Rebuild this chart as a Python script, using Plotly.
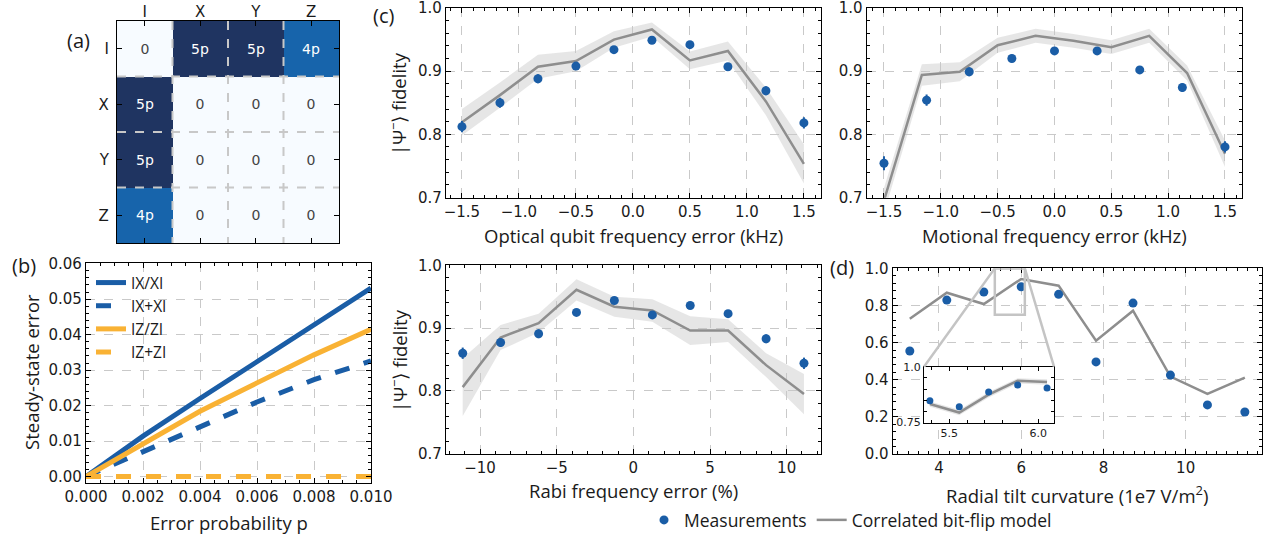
import plotly.graph_objects as go

# ---------------- data ----------------
# (a) correlated error coefficient matrix
paulis = ["I", "X", "Y", "Z"]
coeff = [[0, 5, 5, 4],
         [5, 0, 0, 0],
         [5, 0, 0, 0],
         [4, 0, 0, 0]]

# (b) steady-state error vs error probability
p_vals = [0.0, 0.002, 0.004, 0.006, 0.008, 0.010]
err_IX_XI = [0.0, 0.0114, 0.0220, 0.0323, 0.0428, 0.0531]
err_IXpXI = [0.0, 0.0071, 0.0140, 0.0210, 0.0273, 0.0326]
err_IZ_ZI = [0.0, 0.0093, 0.0184, 0.0264, 0.0343, 0.0415]
err_IZpZI = [0.0, 0.0, 0.0, 0.0, 0.0, 0.0]

# (c) optical qubit frequency error
opt_x = [-1.5, -1.1667, -0.8333, -0.5, -0.1667, 0.1667, 0.5, 0.8333, 1.1667, 1.5]
opt_meas = [0.812, 0.850, 0.888, 0.908, 0.934, 0.949, 0.942, 0.907, 0.869, 0.818]
opt_meas_err = [0.009, 0.008, 0.007, 0.006, 0.005, 0.005, 0.005, 0.006, 0.007, 0.009]
opt_model = [0.819, 0.862, 0.907, 0.916, 0.950, 0.966, 0.917, 0.932, 0.852, 0.753]
opt_model_hw = [0.021, 0.020, 0.019, 0.016, 0.013, 0.011, 0.014, 0.015, 0.022, 0.031]

# (c) motional frequency error
mot_meas_x = [-1.5, -1.125, -0.75, -0.375, 0.0, 0.375, 0.75, 1.125, 1.5]
mot_meas = [0.754, 0.854, 0.899, 0.920, 0.932, 0.932, 0.902, 0.874, 0.780]
mot_meas_err = [0.011, 0.009, 0.007, 0.006, 0.005, 0.005, 0.006, 0.007, 0.009]
mot_model_x = [-1.5, -1.1667, -0.8333, -0.5, -0.1667, 0.1667, 0.5, 0.8333, 1.1667, 1.5]
mot_model = [0.695, 0.894, 0.899, 0.941, 0.956, 0.948, 0.938, 0.956, 0.897, 0.769]
mot_model_hw = [0.020, 0.017, 0.015, 0.012, 0.011, 0.011, 0.011, 0.011, 0.012, 0.021]

# (c) Rabi frequency error
rabi_x = [-11.13, -8.66, -6.18, -3.71, -1.24, 1.24, 3.71, 6.18, 8.66, 11.13]
rabi_meas = [0.860, 0.877, 0.891, 0.925, 0.944, 0.921, 0.936, 0.923, 0.883, 0.844]
rabi_meas_err = [0.009, 0.007, 0.007, 0.005, 0.005, 0.005, 0.005, 0.005, 0.007, 0.009]
rabi_model = [0.806, 0.885, 0.908, 0.961, 0.934, 0.928, 0.896, 0.896, 0.841, 0.795]
rabi_model_hw = [0.046, 0.020, 0.015, 0.017, 0.016, 0.018, 0.023, 0.018, 0.019, 0.032]

# (d) radial tilt curvature
tilt_x = [3.29, 4.19, 5.09, 6.00, 6.91, 7.82, 8.72, 9.63, 10.53, 11.44]
tilt_meas = [0.555, 0.829, 0.873, 0.901, 0.860, 0.496, 0.813, 0.425, 0.264, 0.226]
tilt_model = [0.729, 0.869, 0.808, 0.943, 0.907, 0.610, 0.772, 0.417, 0.323, 0.411]

# (d) inset
inset_x = [5.391, 5.556, 5.721, 5.884, 6.049]
inset_meas = [0.848, 0.821, 0.887, 0.918, 0.905]
inset_model = [0.833, 0.795, 0.875, 0.937, 0.932]
inset_model_hw = [0.012, 0.012, 0.012, 0.012, 0.012]

# axis titles
title_b_x = "Error probability p"
title_b_y = "Steady-state error"
title_fid = "|Ψ<sup>−</sup>⟩ fidelity"
title_opt = "Optical qubit frequency error (kHz)"
title_mot = "Motional frequency error (kHz)"
title_rabi = "Rabi frequency error (%)"
title_tilt = "Radial tilt curvature (1e7 V/m<sup>2</sup>)"

# ---------------- style ----------------
BLUE = "#1a5da6"
ORANGE = "#f9b234"
GRAY = "#8e8e8e"
BAND = "rgba(200,200,200,0.45)"
GRID = "#c9c9c9"
TICKFONT = dict(family="DejaVu Sans", size=15, color="#1a1a1a")
TITLEFONT = dict(family="Open Sans", size=18.5, color="#1a1a1a")

W, H = 1271, 537


def dom_x(a, b):
    return [a / W, b / W]


def dom_y(top, bottom):
    return [1 - bottom / H, 1 - top / H]


def axis(domain, rng, dtick, minor_dtick, fmt=None, grid=True, anchor=None, **kw):
    d = dict(domain=domain, range=rng, dtick=dtick, showline=True, linecolor="black",
             linewidth=1.3, mirror="allticks", ticks="inside", ticklen=5, tickwidth=1.2,
             tickcolor="black", showgrid=grid, gridcolor=GRID, griddash="dash", gridwidth=1,
             zeroline=False, tickfont=TICKFONT, anchor=anchor, automargin=False,
             ticklabeloverflow="allow",
             minor=dict(ticks="inside", ticklen=3, tickwidth=1, tickcolor="black",
                        dtick=minor_dtick, showgrid=False))
    if fmt:
        d["tickformat"] = fmt
    d.update(kw)
    return d


fig = go.Figure()

# (a) heatmap
cell_text = [[(f"{c}p" if c else "0") for c in row] for row in coeff]
fig.add_trace(go.Heatmap(
    z=coeff, x=list(range(4)), y=list(range(4)), text=cell_text, texttemplate="%{text}",
    textfont=dict(family="DejaVu Sans", size=14),
    colorscale=[[0, "#f7fbff"], [0.8, "#1764ab"], [1.0, "#1f3461"]], zmin=0, zmax=5,
    showscale=False, xaxis="x", yaxis="y", hoverinfo="skip"))

# (b) lines
fig.add_trace(go.Scatter(x=p_vals, y=err_IX_XI, mode="lines", name="IX/XI",
                         line=dict(color=BLUE, width=5), xaxis="x2", yaxis="y2", legend="legend2"))
fig.add_trace(go.Scatter(x=p_vals, y=err_IXpXI, mode="lines", name="IX+XI",
                         line=dict(color=BLUE, width=5, dash="dash"), xaxis="x2", yaxis="y2", legend="legend2"))
fig.add_trace(go.Scatter(x=p_vals, y=err_IZ_ZI, mode="lines", name="IZ/ZI",
                         line=dict(color=ORANGE, width=5), xaxis="x2", yaxis="y2", legend="legend2"))
fig.add_trace(go.Scatter(x=p_vals, y=err_IZpZI, mode="lines", name="IZ+ZI",
                         line=dict(color=ORANGE, width=5, dash="dash"), xaxis="x2", yaxis="y2", legend="legend2"))


def add_panel(xa, ya, mx, my, merr, lx, ly, lhw, first=False, msize=9, band=True):
    if band and lhw is not None:
        up = [v + h for v, h in zip(ly, lhw)]
        lo = [v - h for v, h in zip(ly, lhw)]
        fig.add_trace(go.Scatter(x=lx, y=up, mode="lines", line=dict(width=0), showlegend=False,
                                 xaxis=xa, yaxis=ya, hoverinfo="skip"))
        fig.add_trace(go.Scatter(x=lx, y=lo, mode="lines", line=dict(width=0), fill="tonexty",
                                 fillcolor=BAND, showlegend=False, xaxis=xa, yaxis=ya, hoverinfo="skip"))
    fig.add_trace(go.Scatter(x=lx, y=ly, mode="lines", line=dict(color=GRAY, width=2.5),
                             name="Correlated bit-flip model", showlegend=first,
                             xaxis=xa, yaxis=ya, legend="legend"))
    ekw = {}
    if merr is not None:
        ekw["error_y"] = dict(type="data", array=merr, color=BLUE, thickness=2, width=0)
    fig.add_trace(go.Scatter(x=mx, y=my, mode="markers", marker=dict(color=BLUE, size=msize),
                             name="Measurements", showlegend=first, xaxis=xa, yaxis=ya,
                             legend="legend", cliponaxis=False, **ekw))


add_panel("x3", "y3", opt_x, opt_meas, opt_meas_err, opt_x, opt_model, opt_model_hw, first=True)
add_panel("x4", "y4", mot_meas_x, mot_meas, mot_meas_err, mot_model_x, mot_model, mot_model_hw)
add_panel("x5", "y5", rabi_x, rabi_meas, rabi_meas_err, rabi_x, rabi_model, rabi_model_hw)
add_panel("x6", "y6", tilt_x, tilt_meas, None, tilt_x, tilt_model, None, band=False)
add_panel("x7", "y7", inset_x, inset_meas, None, inset_x, inset_model, inset_model_hw, msize=7)

# ---------------- layout ----------------
A_X, A_Y = dom_x(117, 339), dom_y(21, 243)
B_X, B_Y = dom_x(86, 371), dom_y(263.3, 483.3)
C1_X, C1_Y = dom_x(446, 821), dom_y(7.7, 197.7)
C2_X, C2_Y = dom_x(866.7, 1241.7), dom_y(7.7, 197.7)
C3_X, C3_Y = dom_x(446, 821), dom_y(265, 454)
D_X, D_Y = dom_x(892.7, 1261.7), dom_y(268.3, 454)
I_X, I_Y = dom_x(924, 1054), dom_y(366.7, 422.7)

D_XR, D_YR = [2.874, 11.85], [0.0, 1.0]
I_XR, I_YR = [5.358, 6.088], [0.75, 1.0]
FID_R = [0.6995, 1.0005]

heat_axis = dict(range=[-0.5, 3.5], tickvals=[0, 1, 2, 3], ticktext=paulis,
                 showline=True, linecolor="black", linewidth=1.3, mirror="allticks", ticks="inside",
                 ticklen=5, tickcolor="black", showgrid=False, zeroline=False, tickfont=TICKFONT,
                 automargin=False, ticklabeloverflow="allow")

fig.update_layout(
    width=W, height=H, margin=dict(l=0, r=0, t=0, b=0, autoexpand=False),
    paper_bgcolor="white", plot_bgcolor="white",
    font=dict(family="Open Sans", color="#1a1a1a"),
    xaxis=dict(heat_axis, domain=A_X, side="top", anchor="y", ticklabelstandoff=-3),
    yaxis=dict(heat_axis, domain=A_Y, range=[3.5, -0.5], anchor="x", ticklabelstandoff=4),
    xaxis2=axis(B_X, [0, 0.010], 0.002, 0.0005, ".3f", anchor="y2"),
    yaxis2=axis(B_Y, [-0.0019, 0.0601], 0.01, 0.002, ".2f", anchor="x2"),
    xaxis3=axis(C1_X, [-1.64, 1.65], 0.5, 0.1, ".1f", anchor="y3"),
    yaxis3=axis(C1_Y, FID_R, 0.1, 0.02, ".1f", anchor="x3"),
    xaxis4=axis(C2_X, [-1.652, 1.647], 0.5, 0.1, ".1f", anchor="y4"),
    yaxis4=axis(C2_Y, FID_R, 0.1, 0.02, ".1f", anchor="x4"),
    xaxis5=axis(C3_X, [-12.22, 12.24], 5, 1, None, anchor="y5"),
    yaxis5=axis(C3_Y, FID_R, 0.1, 0.02, ".1f", anchor="x5"),
    xaxis6=axis(D_X, D_XR, 2, 0.25, None, anchor="y6"),
    yaxis6=axis(D_Y, [-0.0005, 1.0005], 0.2, 0.04, ".1f", anchor="x6"),
    xaxis7=axis(I_X, I_XR, 0.5, 0.1, ".1f", grid=False, anchor="y7",
                tickfont=dict(family="DejaVu Sans", size=11, color="#1a1a1a"), ticklen=4),
    yaxis7=axis(I_Y, [0.7495, 1.0005], 0.25, 0.05, None, grid=False, anchor="x7",
                tickvals=[0.75, 1.0], ticktext=["0.75", "1.0"],
                tickfont=dict(family="DejaVu Sans", size=11, color="#1a1a1a"), ticklen=4),
    legend=dict(orientation="h", x=644 / W, xanchor="left", y=1 - 520 / H, yanchor="middle",
                font=dict(family="Open Sans", size=17.5, color="#1a1a1a"), bgcolor="rgba(0,0,0,0)",
                traceorder="reversed"),
    legend2=dict(x=91 / W, xanchor="left", y=1 - 266 / H, yanchor="top",
                 font=dict(family="Open Sans", size=15.5, color="#1a1a1a"), bgcolor="rgba(0,0,0,0)",
                 tracegroupgap=0),
)

# heatmap dashed cell borders
shapes = []
for b in [0.5, 1.5, 2.5]:
    shapes.append(dict(type="line", xref="x", yref="y", x0=b, x1=b, y0=-0.5, y1=3.5,
                       line=dict(color="#c8c8c8", width=2, dash="dash"), layer="above"))
    shapes.append(dict(type="line", xref="x", yref="y", x0=-0.5, x1=3.5, y0=b, y1=b,
                       line=dict(color="#c8c8c8", width=2, dash="dash"), layer="above"))


def to_data(v, dom, rng):
    return rng[0] + (v - dom[0]) / (dom[1] - dom[0]) * (rng[1] - rng[0])


# inset corners expressed in (d) data coordinates
ix0, ix1 = to_data(I_X[0], D_X, D_XR), to_data(I_X[1], D_X, D_XR)
iy0, iy1 = to_data(I_Y[0], D_Y, D_YR), to_data(I_Y[1], D_Y, D_YR)
# white background behind the inset (hides the grid of d)
shapes.append(dict(type="rect", xref="x6", yref="y6", x0=ix0, x1=ix1, y0=iy0, y1=iy1,
                   fillcolor="white", line=dict(width=0), layer="between"))
# zoom indicator rectangle
shapes.append(dict(type="rect", xref="x6", yref="y6", x0=I_XR[0], x1=I_XR[1], y0=I_YR[0], y1=I_YR[1],
                   line=dict(color="#c4c4c4", width=2.5), layer="above"))
# connectors from rectangle top corners to inset top corners
shapes.append(dict(type="line", xref="x6", yref="y6", x0=I_XR[0], y0=I_YR[1], x1=ix0, y1=iy1,
                   line=dict(color="#c4c4c4", width=2.5), layer="above"))
shapes.append(dict(type="line", xref="x6", yref="y6", x0=I_XR[1], y0=I_YR[1], x1=ix1, y1=iy1,
                   line=dict(color="#c4c4c4", width=2.5), layer="above"))
fig.update_layout(shapes=shapes)

# panel labels and axis titles (placed in pixels of the page)
ann = []
for t, x, y in [("(a)", 78, 40), ("(b)", 24, 265), ("(c)", 383, 15), ("(d)", 842, 267)]:
    ann.append(dict(text=t, x=x / W, y=1 - y / H, xref="paper", yref="paper", showarrow=False,
                    font=dict(family="Open Sans", size=20, color="#1a1a1a"),
                    xanchor="center", yanchor="middle"))
for t, x, y, ang in [(title_b_x, 228.5, 522, 0), (title_b_y, 31, 372, -90),
                     (title_opt, 633.5, 235, 0), (title_mot, 1054, 235, 0),
                     (title_rabi, 633.5, 490, 0), (title_tilt, 1077, 494, 0),
                     (title_fid, 398, 103, -90), (title_fid, 398, 360, -90)]:
    ann.append(dict(text=t, x=x / W, y=1 - y / H, xref="paper", yref="paper", showarrow=False,
                    font=TITLEFONT, textangle=ang, xanchor="center", yanchor="middle"))
fig.update_layout(annotations=ann)

fig.write_html("out.html", config={"displayModeBar": False},
               post_script="document.body.style.margin='0px';")
